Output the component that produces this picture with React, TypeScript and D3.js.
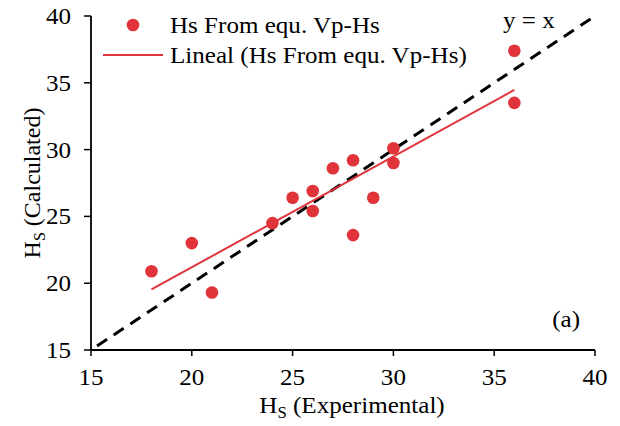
import React from "react";
import * as d3 from "d3";

const xExperimental = [18, 20, 21, 24, 25, 26, 26, 27, 28, 28, 29, 30, 30, 36, 36];
const yCalculated = [20.9, 23.0, 19.3, 24.5, 26.4, 26.9, 25.4, 28.6, 29.2, 23.6, 26.4, 30.1, 29.0, 37.4, 33.5];
const xTicks = [15, 20, 25, 30, 35, 40];
const yTicks = [15, 20, 25, 30, 35, 40];
const legendLabels = ["Hs From equ. Vp-Hs", "Lineal (Hs From equ. Vp-Hs)"];

const W = 620, H = 426;
const FONT = "'Liberation Serif', 'Times New Roman', serif";
const RED = "#e0333a";
const FS = 24;
const SX = 1.045;

function T({ x, y, anchor = "start", children, rotate = 0 }: any) {
  return (
    <g transform={`translate(${x},${y}) rotate(${rotate}) scale(${rotate ? 1 : SX},1)`}>
      <text x={0} y={0} textAnchor={anchor} fontSize={FS}>{children}</text>
    </g>
  );
}

export default function App() {
  const x = d3.scaleLinear().domain([15, 40]).range([91, 595]);
  const y = d3.scaleLinear().domain([15, 40]).range([350, 16]);

  const pts = xExperimental.map((v, i) => [v, yCalculated[i]] as [number, number]);
  const mx = d3.mean(xExperimental)!;
  const my = d3.mean(yCalculated)!;
  let sxy = 0, sxx = 0;
  pts.forEach(([a, b]) => { sxy += (a - mx) * (b - my); sxx += (a - mx) * (a - mx); });
  const slope = sxy / sxx;
  const icpt = my - slope * mx;
  const [xmin, xmax] = d3.extent(xExperimental) as [number, number];
  const line = d3.line<[number, number]>().x(d => x(d[0])).y(d => y(d[1]));
  const trend: [number, number][] = [[xmin, icpt + slope * xmin], [xmax, icpt + slope * xmax]];
  const ident: [number, number][] = [[15.3, 15.3], [40, 40]];

  return (
    <div style={{ position: "absolute", left: 0, top: 0 }}>
      <svg width={W} height={H} style={{ display: "block", background: "#fff" }} fontFamily={FONT}>
        <rect width={W} height={H} fill="#fff" />
        {/* y = x dashed */}
        <path d={line(ident)!} stroke="#000" strokeWidth={3} strokeDasharray="12 8" fill="none" />
        {/* trend */}
        <path d={line(trend)!} stroke={RED} strokeWidth={2} fill="none" />
        {/* points */}
        {pts.map((p, i) => (
          <circle key={i} cx={x(p[0])} cy={y(p[1])} r={6.3} fill={RED} />
        ))}
        {/* axes */}
        <line x1={x(15)} x2={x(40)} y1={y(15)} y2={y(15)} stroke="#000" strokeWidth={1.8} />
        <line x1={x(15)} x2={x(15)} y1={y(15)} y2={y(40)} stroke="#000" strokeWidth={1.8} />
        {xTicks.map(t => (
          <g key={"x" + t}>
            <line x1={x(t)} x2={x(t)} y1={y(15)} y2={y(15) + 6} stroke="#000" strokeWidth={1.5} />
            <T x={x(t)} y={385} anchor="middle">{t}</T>
          </g>
        ))}
        {yTicks.map(t => (
          <g key={"y" + t}>
            <line x1={x(15) - 7} x2={x(15)} y1={y(t)} y2={y(t)} stroke="#000" strokeWidth={1.5} />
            <T x={71} y={y(t) + 8} anchor="end">{t}</T>
          </g>
        ))}
        {/* axis titles */}
        <T x={352} y={413} anchor="middle">
          H<tspan fontSize={16} dy={5}>S</tspan><tspan dy={-5}> (Experimental)</tspan>
        </T>
        <T x={40} y={(y(15) + y(40)) / 2} anchor="middle" rotate={-90}>
          H<tspan fontSize={16} dy={5}>S</tspan><tspan dy={-5}> (Calculated)</tspan>
        </T>
        {/* legend */}
        <circle cx={133} cy={25} r={6.3} fill={RED} />
        <T x={170} y={33}>{legendLabels[0]}</T>
        <line x1={103} x2={163} y1={55} y2={55} stroke={RED} strokeWidth={2} />
        <T x={170} y={63}>{legendLabels[1]}</T>
        <T x={503} y={28}>y = x</T>
        <T x={580} y={327} anchor="end">(a)</T>
      </svg>
    </div>
  );
}
